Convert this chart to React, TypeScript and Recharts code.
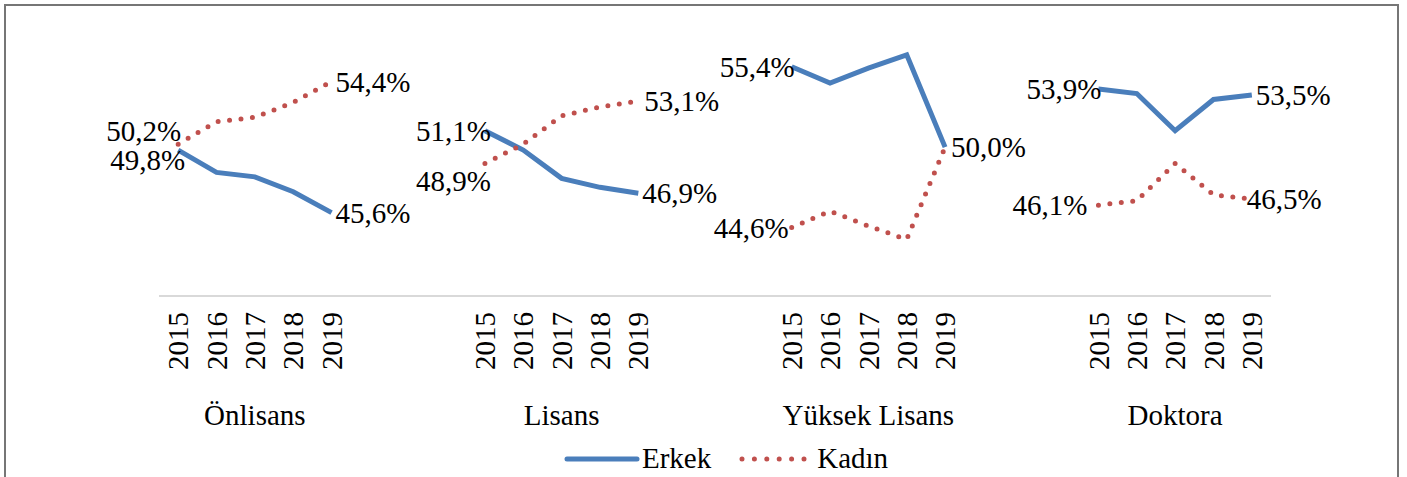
import React from 'react';
import { LineChart, Line, XAxis, YAxis, Legend, LabelList } from 'recharts';

const groups = ['Önlisans', 'Lisans', 'Yüksek Lisans', 'Doktora'];
const years = ['2015', '2016', '2017', '2018', '2019'];

const erkekOnlisans = [49.8, 48.3, 48.0, 47.0, 45.6];
const kadinOnlisans = [50.2, 51.7, 52.0, 53.0, 54.4];
const erkekLisans = [51.1, 49.8, 47.9, 47.3, 46.9];
const kadinLisans = [48.9, 50.2, 52.1, 52.7, 53.1];
const erkekYuksek = [55.4, 54.3, 55.3, 56.2, 50.0];
const kadinYuksek = [44.6, 45.7, 44.7, 43.8, 50.0];
const erkekDoktora = [53.9, 53.6, 51.1, 53.2, 53.5];
const kadinDoktora = [46.1, 46.4, 48.9, 46.8, 46.5];

const erkekSeries = [erkekOnlisans, erkekLisans, erkekYuksek, erkekDoktora];
const kadinSeries = [kadinOnlisans, kadinLisans, kadinYuksek, kadinDoktora];

// labels hidden (overlap in the original)
const hiddenLabels = ['kadin-2-4'];

const GROUP_STRIDE = 8;
const FONT = '"Liberation Serif", "Times New Roman", serif';
const FS = 29;
const BLUE = '#4a7ebb';
const RED = '#c0504d';

type Row = { x: number; erkek: number | null; kadin: number | null; g: number; y: number };
const rows: Row[] = [];
groups.forEach((_, g) => {
  years.forEach((__, i) => {
    rows.push({ x: g * GROUP_STRIDE + i, erkek: erkekSeries[g][i], kadin: kadinSeries[g][i], g, y: i });
  });
  if (g < groups.length - 1) rows.push({ x: g * GROUP_STRIDE + 6, erkek: null, kadin: null, g: -1, y: -1 });
});

const dataRows = rows.filter((r) => r.g >= 0);
const yearTicks = dataRows.map((r) => r.x);
const rowByX = new Map(dataRows.map((r) => [r.x, r]));

const labelNudge: Record<string, { dx?: number; dy?: number }> = {
  'kadin-0-0': { dy: -13 },
  'erkek-0-0': { dy: 10, dx: 4 },
  'erkek-1-0': { dx: 3 },
  'kadin-1-0': { dy: 17, dx: 3 },
  'kadin-2-0': { dx: -6 },
  'kadin-3-0': { dx: -14 },
  'kadin-1-4': { dx: 2 },
  'erkek-2-4': { dx: 2 },
  'kadin-3-4': { dx: -9 },
};

const makeLabel = (key: 'erkek' | 'kadin') => (props: any) => {
  const { x, y, index, value } = props;
  const row = rows[index];
  if (!row || row.g < 0 || value == null) return null;
  const first = row.y === 0;
  const last = row.y === years.length - 1;
  if (!first && !last) return null;
  const id = `${key}-${row.g}-${row.y}`;
  if (hiddenLabels.includes(id)) return null;
  const n = labelNudge[id] || {};
  const tx = (first ? x + 3 : x + 4) + (n.dx || 0);
  const ty = y + (n.dy || 0);
  return (
    <text x={tx} y={ty} dy="0.35em" textAnchor={first ? 'end' : 'start'} fontFamily={FONT} fontSize={FS} fill="#000">
      {Number(value).toFixed(1).replace('.', ',')}%
    </text>
  );
};

// Step between adjacent year ticks in pixels is derived from the scale: tick x positions are given.
const YearTick = (props: any) => {
  const { x, y, payload } = props;
  const row = rowByX.get(payload.value);
  if (!row) return null;
  const mid = row.y === (years.length - 1) / 2;
  return (
    <g>
      <text
        transform={`translate(${x},${y + 16}) rotate(-90)`}
        dy="0.35em"
        textAnchor="end"
        fontFamily={FONT}
        fontSize={FS}
        fill="#000"
      >
        {years[row.y]}
      </text>
      {mid && (
        <text x={x} y={y + 119} dy="0.35em" textAnchor="middle" fontFamily={FONT} fontSize={FS} fill="#000">
          {groups[row.g]}
        </text>
      )}
    </g>
  );
};

const LegendContent = () => (
  <div style={{ display: 'flex', alignItems: 'center', fontFamily: FONT, fontSize: FS, color: '#000', lineHeight: 1 }}>
    <svg width={76} height={10} style={{ display: 'block' }}>
      <line x1={3} y1={5} x2={73} y2={5} stroke={BLUE} strokeWidth={5} strokeLinecap="round" />
    </svg>
    <span style={{ marginLeft: 2 }}>Erkek</span>
    <svg width={70} height={10} style={{ display: 'block', marginLeft: 28 }}>
      <line x1={3} y1={5} x2={66} y2={5} stroke={RED} strokeWidth={5} strokeLinecap="round" strokeDasharray="0 12.4" />
    </svg>
    <span style={{ marginLeft: 8 }}>Kadın</span>
  </div>
);

export default function App() {
  return (
    <div style={{ position: 'absolute', left: 0, top: 0, width: 1407, height: 477, background: '#fff', overflow: 'hidden' }}>
      <div
        style={{
          position: 'absolute',
          left: 4,
          top: 4,
          width: 1395,
          height: 490,
          border: '2px solid #767676',
          boxSizing: 'border-box',
        }}
      />
      <LineChart width={1407} height={477} data={rows} margin={{ top: 28, right: 136, bottom: 0, left: 159 }}>
        <XAxis
          dataKey="x"
          type="number"
          domain={[-0.5, 28.5]}
          ticks={yearTicks}
          interval={0}
          height={181}
          axisLine={{ stroke: '#d9d9d9', strokeWidth: 2 }}
          tickLine={false}
          tickSize={0}
          tickMargin={0}
          tick={<YearTick />}
        />
        <YAxis hide type="number" domain={[40, 58]} />
        <Legend
          layout="horizontal"
          verticalAlign="middle"
          align="center"
          content={<LegendContent />}
          wrapperStyle={{ left: 564, top: 444, width: 'auto' }}
        />
        <Line
          dataKey="erkek"
          name="Erkek"
          stroke={BLUE}
          strokeWidth={5}
          dot={false}
          activeDot={false}
          connectNulls={false}
          isAnimationActive={false}
          type="linear"
        >
          <LabelList dataKey="erkek" content={makeLabel('erkek')} />
        </Line>
        <Line
          dataKey="kadin"
          name="Kadın"
          stroke={RED}
          strokeWidth={5}
          strokeDasharray="0 11.5"
          strokeLinecap="round"
          dot={false}
          activeDot={false}
          connectNulls={false}
          isAnimationActive={false}
          type="linear"
        >
          <LabelList dataKey="kadin" content={makeLabel('kadin')} />
        </Line>
      </LineChart>
    </div>
  );
}
